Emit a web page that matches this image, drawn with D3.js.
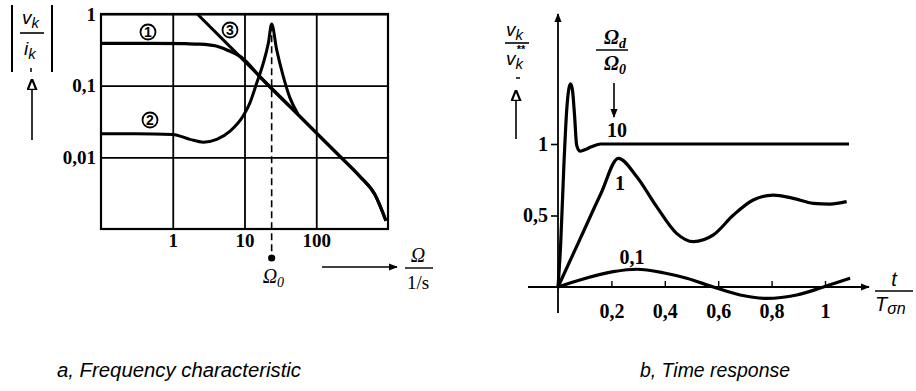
<!DOCTYPE html>
<html>
<head>
<meta charset="utf-8">
<script src="https://cdn.jsdelivr.net/npm/d3@7/dist/d3.min.js"></script>
<style>
  html, body { margin: 0; padding: 0; background: #fff; }
  svg { display: block; }
  .serif { font-family: "Liberation Serif", "DejaVu Serif", serif; }
  .sans { font-family: "Liberation Sans", Arial, sans-serif; }
</style>
</head>
<body>
<svg id="chart" width="916" height="391"></svg>
<script>
// ---- (a) frequency characteristic |v_k / i_k| over Omega (log-log) ----
const freqTicks = [1, 10, 100];
const freqTickLabels = ["1", "10", "100"];
const magTicks = [1, 0.1, 0.01];
const magTickLabels = ["1", "0,1", "0,01"];

// curve 1: flat low-pass, joining the asymptote 3
const curve1 = [[0.1, 0.39], [0.5, 0.39], [1.5, 0.385], [2.4, 0.38], [3.9, 0.36], [5.9, 0.31],
  [9.5, 0.24], [16.4, 0.133], [43, 0.051], [113, 0.0195], [214, 0.0103], [406, 0.0054],
  [659, 0.003], [937, 0.0013]];
// curve 2: resonance at Omega_0
const curve2 = [[0.1, 0.0213], [0.3, 0.0213], [1.0, 0.0209], [1.74, 0.0178], [2.67, 0.0163],
  [4.1, 0.0178], [6.3, 0.0232], [9.85, 0.0396], [11.9, 0.0575], [14.8, 0.109], [18.3, 0.207],
  [21.5, 0.392], [23.9, 0.726], [28.1, 0.316], [34.7, 0.135], [43, 0.0675], [55, 0.041]];
// curve 3: asymptote
const curve3 = [[2.2, 1], [10, 0.22], [100, 0.022], [214, 0.0103], [406, 0.0054],
  [659, 0.003], [937, 0.0013]];
const omega0 = 23.9;

// ---- (b) time response v_k / v_k* over t / T_sigma_n ----
const timeTicks = [0.2, 0.4, 0.6, 0.8, 1];
const timeTickLabels = ["0,2", "0,4", "0,6", "0,8", "1"];
const respTicks = [1, 0.5];
const respTickLabels = ["1", "0,5"];

const t10 = [0, 0.01, 0.022, 0.032, 0.04, 0.047, 0.054, 0.062, 0.07, 0.082, 0.1, 0.125, 0.16, 0.3, 0.6, 0.9, 1.09];
const v10 = [0, 0.3, 0.85, 1.22, 1.38, 1.42, 1.38, 1.2, 0.99, 0.95, 0.96, 0.98, 1.0, 1.0, 1.0, 1.0, 1.0];
const t1 = [0, 0.082, 0.16, 0.226, 0.295, 0.37, 0.444, 0.507, 0.582, 0.657, 0.731, 0.806, 0.881, 0.956, 1.019, 1.081];
const v1 = [0, 0.333, 0.65, 0.9, 0.771, 0.56, 0.375, 0.317, 0.364, 0.503, 0.608, 0.643, 0.62, 0.585, 0.58, 0.597];
const t01 = [0, 0.082, 0.207, 0.295, 0.394, 0.482, 0.582, 0.682, 0.782, 0.894, 0.994, 1.094];
const v01 = [0, 0.049, 0.107, 0.124, 0.1, 0.061, 0.0, -0.056, -0.08, -0.056, 0.0, 0.061];

const svg = d3.select("#chart");
const defs = svg.append("defs");
defs.append("marker").attr("id", "arrow").attr("viewBox", "0 0 10 10")
  .attr("refX", 9).attr("refY", 5).attr("markerWidth", 9).attr("markerHeight", 9)
  .attr("markerUnits", "userSpaceOnUse").attr("orient", "auto")
  .append("path").attr("d", "M0,1 L10,5 L0,9 Z").attr("fill", "#000");
defs.append("marker").attr("id", "arrowOpen").attr("viewBox", "0 0 10 10")
  .attr("refX", 9).attr("refY", 5).attr("markerWidth", 11).attr("markerHeight", 11)
  .attr("markerUnits", "userSpaceOnUse").attr("orient", "auto")
  .append("path").attr("d", "M0,1 L10,5 L0,9 Z").attr("fill", "#fff").attr("stroke", "#000").attr("stroke-width", 2);

// ===== panel a =====
const xL = d3.scaleLog().domain([0.1, 1000]).range([101, 388]);
const yL = d3.scaleLog().domain([0.001, 1]).range([229, 14]);

const gA = svg.append("g");
const xAxisA = d3.axisBottom(xL).tickValues(freqTicks)
  .tickFormat((d, i) => freqTickLabels[i]).tickSize(-(229 - 14)).tickPadding(8);
gA.append("g").attr("transform", "translate(0,229)").call(xAxisA)
  .call(g => g.select(".domain").remove())
  .call(g => g.selectAll("line").attr("stroke", "#000").attr("stroke-width", 1.8))
  .call(g => g.selectAll("text").attr("class", "serif").attr("font-size", 19)
    .attr("font-weight", "bold").attr("fill", "#000").attr("dy", "0.55em"));
const yAxisA = d3.axisLeft(yL).tickValues(magTicks)
  .tickFormat((d, i) => magTickLabels[i]).tickSize(-(388 - 101)).tickPadding(5);
gA.append("g").attr("transform", "translate(101,0)").call(yAxisA)
  .call(g => g.select(".domain").remove())
  .call(g => g.selectAll("line").attr("stroke", "#000").attr("stroke-width", 1.8))
  .call(g => g.selectAll("text").attr("class", "serif").attr("font-size", 19)
    .attr("font-weight", "bold").attr("fill", "#000"));
gA.append("rect").attr("x", 101).attr("y", 14).attr("width", 287).attr("height", 215)
  .attr("fill", "none").attr("stroke", "#000").attr("stroke-width", 2.2);

// Omega_0 marker
gA.append("line").attr("x1", xL(omega0)).attr("x2", xL(omega0))
  .attr("y1", yL(0.72)).attr("y2", 254).attr("stroke", "#000").attr("stroke-width", 1.6)
  .attr("stroke-dasharray", "7,4");
gA.append("circle").attr("cx", xL(omega0)).attr("cy", 258).attr("r", 3.6).attr("fill", "#000");
const om0 = gA.append("text").attr("class", "serif").attr("x", xL(omega0) - 9).attr("y", 283)
  .attr("font-size", 20).attr("font-style", "italic");
om0.append("tspan").text("Ω");
om0.append("tspan").attr("font-size", 14).attr("dy", 4).text("0");

const lineL = d3.line().x(d => xL(d[0])).y(d => yL(d[1])).curve(d3.curveMonotoneX);
const clipA = defs.append("clipPath").attr("id", "clipA");
clipA.append("rect").attr("x", 101).attr("y", 12).attr("width", 287).attr("height", 217);
const curvesA = gA.append("g").attr("clip-path", "url(#clipA)");
curvesA.append("path").attr("d", lineL(curve3))
  .attr("fill", "none").attr("stroke", "#000").attr("stroke-width", 3);
curvesA.append("path").attr("d", lineL(curve1))
  .attr("fill", "none").attr("stroke", "#000").attr("stroke-width", 3.2);
curvesA.append("path").attr("d", lineL(curve2))
  .attr("fill", "none").attr("stroke", "#000").attr("stroke-width", 3);

// circled curve numbers
[["1", 148, 32], ["3", 230, 30], ["2", 150, 120]].forEach(([n, x, y]) => {
  gA.append("circle").attr("cx", x).attr("cy", y).attr("r", 7.5)
    .attr("fill", "#fff").attr("stroke", "#000").attr("stroke-width", 1.8);
  gA.append("text").attr("class", "sans").attr("x", x).attr("y", y + 5)
    .attr("text-anchor", "middle").attr("font-size", 14).attr("font-weight", "bold").text(n);
});

// y label |v_k / i_k|
gA.append("line").attr("x1", 12).attr("x2", 12).attr("y1", 5).attr("y2", 72).attr("stroke", "#000").attr("stroke-width", 2);
gA.append("line").attr("x1", 52).attr("x2", 52).attr("y1", 5).attr("y2", 72).attr("stroke", "#000").attr("stroke-width", 2);
const vkA = gA.append("text").attr("class", "sans").attr("x", 22).attr("y", 24).attr("font-size", 19).attr("font-style", "italic");
vkA.append("tspan").text("v");
vkA.append("tspan").attr("font-size", 15).attr("dy", 4).text("k");
gA.append("line").attr("x1", 20).attr("x2", 44).attr("y1", 33).attr("y2", 33).attr("stroke", "#000").attr("stroke-width", 1.6);
const ikA = gA.append("text").attr("class", "sans").attr("x", 24).attr("y", 55).attr("font-size", 19).attr("font-style", "italic");
ikA.append("tspan").text("i");
ikA.append("tspan").attr("font-size", 15).attr("dy", 4).text("k");
gA.append("line").attr("x1", 31).attr("x2", 31).attr("y1", 68).attr("y2", 72).attr("stroke", "#000").attr("stroke-width", 1.5);
gA.append("line").attr("x1", 32).attr("x2", 32).attr("y1", 140).attr("y2", 80)
  .attr("stroke", "#000").attr("stroke-width", 1.6).attr("marker-end", "url(#arrowOpen)");

// x label Omega / 1/s
gA.append("line").attr("x1", 322).attr("x2", 397).attr("y1", 267).attr("y2", 267)
  .attr("stroke", "#000").attr("stroke-width", 1.6).attr("marker-end", "url(#arrow)");
gA.append("text").attr("class", "serif").attr("x", 418).attr("y", 262).attr("text-anchor", "middle")
  .attr("font-size", 20).attr("font-style", "italic").text("Ω");
gA.append("line").attr("x1", 405).attr("x2", 433).attr("y1", 268).attr("y2", 268).attr("stroke", "#000").attr("stroke-width", 1.4);
gA.append("text").attr("class", "serif").attr("x", 418).attr("y", 289).attr("text-anchor", "middle")
  .attr("font-size", 19).text("1/s");

// ===== panel b =====
const xR = d3.scaleLinear().domain([0, 1]).range([558, 825]);
const yR = d3.scaleLinear().domain([0, 1]).range([287, 144]);
const gB = svg.append("g");

// axes lines
gB.append("line").attr("x1", xR(0)).attr("x2", xR(0)).attr("y1", 313).attr("y2", 14)
  .attr("stroke", "#000").attr("stroke-width", 1.8).attr("marker-end", "url(#arrow)");
gB.append("line").attr("x1", 528).attr("x2", 869).attr("y1", yR(0)).attr("y2", yR(0))
  .attr("stroke", "#000").attr("stroke-width", 1.8).attr("marker-end", "url(#arrow)");

const xAxisB = d3.axisBottom(xR).tickValues(timeTicks)
  .tickFormat((d, i) => timeTickLabels[i]).tickSize(-6).tickPadding(17);
gB.append("g").attr("transform", `translate(0,${yR(0)})`).call(xAxisB)
  .call(g => g.select(".domain").remove())
  .call(g => g.selectAll("line").attr("stroke", "#000").attr("stroke-width", 1.4))
  .call(g => g.selectAll("text").attr("class", "serif").attr("font-size", 20)
    .attr("font-weight", "bold").attr("fill", "#000"));
const yAxisB = d3.axisLeft(yR).tickValues(respTicks)
  .tickFormat((d, i) => respTickLabels[i]).tickSize(7).tickPadding(3);
gB.append("g").attr("transform", `translate(${xR(0)},0)`).call(yAxisB)
  .call(g => g.select(".domain").remove())
  .call(g => g.selectAll("line").attr("stroke", "#000").attr("stroke-width", 1.6))
  .call(g => g.selectAll("text").attr("class", "serif").attr("font-size", 20)
    .attr("font-weight", "bold").attr("fill", "#000"));

const lineR = d3.line().x(d => xR(d[0])).y(d => yR(d[1])).curve(d3.curveMonotoneX);
[[t10, v10], [t1, v1], [t01, v01]].forEach(([ts, vs]) => {
  gB.append("path").attr("d", lineR(ts.map((t, i) => [t, vs[i]])))
    .attr("fill", "none").attr("stroke", "#000").attr("stroke-width", 3.2)
    .attr("stroke-linejoin", "round");
});

// curve labels
const curveLabel = (txt, x, y) => gB.append("text").attr("class", "serif").attr("x", x).attr("y", y)
  .attr("text-anchor", "middle").attr("font-size", 20).attr("font-weight", "bold").text(txt);
curveLabel("10", 617, 137);
curveLabel("1", 620, 190);
curveLabel("0,1", 632, 264);

// Omega_d / Omega_0 with arrow
const odN = gB.append("text").attr("class", "serif").attr("x", 604).attr("y", 44)
  .attr("font-size", 20).attr("font-style", "italic").attr("font-weight", "bold");
odN.append("tspan").text("Ω");
odN.append("tspan").attr("font-size", 14).attr("dy", 4).text("d");
gB.append("line").attr("x1", 596).attr("x2", 628).attr("y1", 50).attr("y2", 50).attr("stroke", "#000").attr("stroke-width", 1.5);
const odD = gB.append("text").attr("class", "serif").attr("x", 604).attr("y", 70)
  .attr("font-size", 20).attr("font-style", "italic").attr("font-weight", "bold");
odD.append("tspan").text("Ω");
odD.append("tspan").attr("font-size", 14).attr("dy", 4).text("0");
gB.append("line").attr("x1", 614).attr("x2", 614).attr("y1", 83).attr("y2", 117)
  .attr("stroke", "#000").attr("stroke-width", 1.6).attr("marker-end", "url(#arrow)");

// y label v_k / v_k*
const vkB = gB.append("text").attr("class", "sans").attr("x", 506).attr("y", 36).attr("font-size", 19).attr("font-style", "italic");
vkB.append("tspan").text("v");
vkB.append("tspan").attr("font-size", 15).attr("dy", 4).text("k");
gB.append("line").attr("x1", 505).attr("x2", 529).attr("y1", 43).attr("y2", 43).attr("stroke", "#000").attr("stroke-width", 1.6);
const vkB2 = gB.append("text").attr("class", "sans").attr("x", 506).attr("y", 65).attr("font-size", 19).attr("font-style", "italic");
vkB2.append("tspan").text("v");
vkB2.append("tspan").attr("font-size", 15).attr("dy", 4).text("k");
gB.append("text").attr("class", "sans").attr("x", 521).attr("y", 53).attr("font-size", 11)
  .attr("font-weight", "bold").attr("text-anchor", "middle").text("**");
gB.append("line").attr("x1", 516).attr("x2", 520).attr("y1", 78).attr("y2", 78).attr("stroke", "#000").attr("stroke-width", 1.5);
gB.append("line").attr("x1", 516).attr("x2", 516).attr("y1", 139).attr("y2", 91)
  .attr("stroke", "#000").attr("stroke-width", 1.6).attr("marker-end", "url(#arrowOpen)");

// x label t / T_sigma_n
gB.append("text").attr("class", "sans").attr("x", 894).attr("y", 286).attr("text-anchor", "middle")
  .attr("font-size", 20).attr("font-style", "italic").text("t");
gB.append("line").attr("x1", 875).attr("x2", 913).attr("y1", 291).attr("y2", 291).attr("stroke", "#000").attr("stroke-width", 1.5);
const tsn = gB.append("text").attr("class", "sans").attr("x", 875).attr("y", 311)
  .attr("font-size", 20).attr("font-style", "italic");
tsn.append("tspan").text("T");
tsn.append("tspan").attr("font-size", 16).attr("dy", 3).text("σn");

// captions
svg.append("text").attr("class", "sans").attr("x", 57).attr("y", 377).attr("font-size", 20)
  .attr("font-style", "italic").attr("textLength", 244).attr("lengthAdjust", "spacingAndGlyphs")
  .text("a, Frequency characteristic");
svg.append("text").attr("class", "sans").attr("x", 640).attr("y", 377).attr("font-size", 20)
  .attr("font-style", "italic").attr("textLength", 150).attr("lengthAdjust", "spacingAndGlyphs")
  .text("b, Time response");
</script>
</body>
</html>
